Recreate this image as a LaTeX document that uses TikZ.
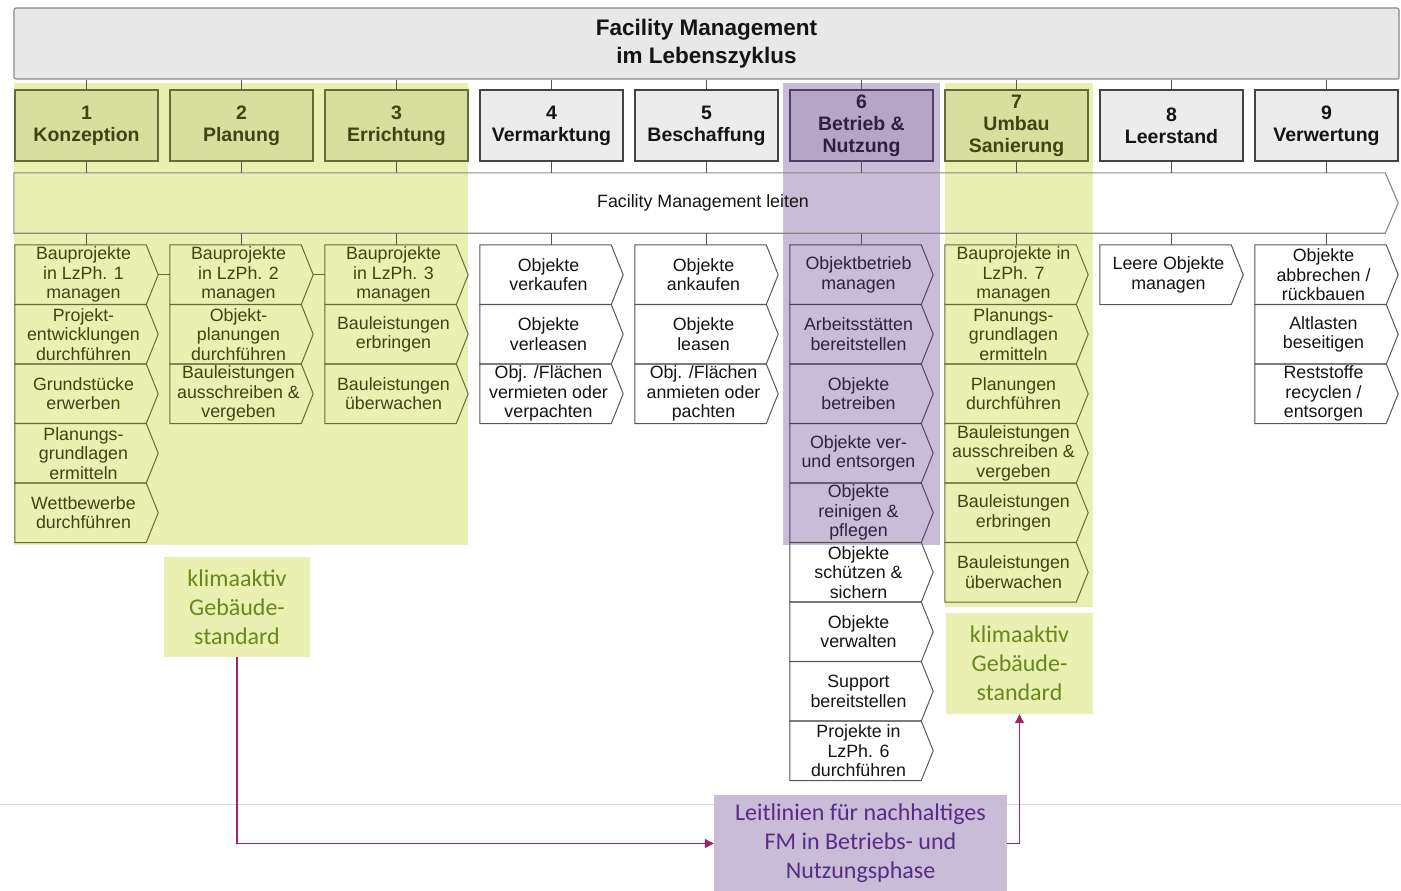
\documentclass[tikz,border=0pt]{standalone}
\usepackage{fontspec}
\setmainfont{Liberation Sans}
\newfontfamily\calib{Carlito}
\usetikzlibrary{arrows.meta,calc}
\definecolor{ovgreen}{RGB}{233,240,177}
\definecolor{ovpurple}{RGB}{200,188,216}
\definecolor{ghfill}{RGB}{216,222,158}
\definecolor{phfill}{RGB}{181,165,199}
\definecolor{hdrgrey}{RGB}{236,236,236}
\definecolor{topgrey}{RGB}{232,232,232}
\definecolor{ntxt}{RGB}{20,20,20}
\definecolor{gtxt}{RGB}{62,69,19}
\definecolor{ptxt}{RGB}{46,33,64}
\definecolor{nln}{RGB}{85,85,85}
\definecolor{gln}{RGB}{100,106,56}
\definecolor{pln}{RGB}{78,64,100}
\definecolor{klfill}{RGB}{233,240,177}
\definecolor{kltxt}{RGB}{104,136,28}
\definecolor{leitfill}{RGB}{200,188,216}
\definecolor{leittxt}{RGB}{88,44,128}
\definecolor{connc}{RGB}{160,36,96}
\newcommand\chv[5]{%
 \pgfmathsetmacro\chx{15+155*(#2-1)+68.5}%
 \pgfmathsetmacro\chy{245+59.5*(#3-1)+29.75}%
 \node[chevtext,#4text] (#1) at (\chx,\chy) {#5};%
 \draw[chevline,#4line] (#1.north west) -- ([xshift=-6pt]#1.north east) -- ([xshift=6pt]#1.east) -- ([xshift=-6pt]#1.south east) -- (#1.south west) -- cycle;%
}
\begin{document}
\begin{tikzpicture}[x=1pt,y=-1pt,
 chevtext/.style={minimum width=137pt, minimum height=59.5pt, inner sep=0pt, align=center, font=\fontsize{17.8}{19.5}\selectfont},
 ntext/.style={text=ntxt}, gtext/.style={text=gtxt}, ptext/.style={text=ptxt},
 chevline/.style={line width=1pt, line join=miter},
 nline/.style={draw=nln}, gline/.style={draw=gln}, pline/.style={draw=pln},
 hdr/.style={minimum width=143pt, minimum height=71pt, inner sep=0pt, align=center, line width=1.1pt, font=\bfseries\fontsize{19.5}{22}\selectfont},
 nhdr/.style={hdr, fill=hdrgrey, draw=nln!80!black, text=ntxt},
 ghdr/.style={hdr, fill=ghfill, draw=gln, text=gtxt},
 phdr/.style={hdr, fill=phfill, draw=pln, text=ptxt},
 tick/.style={line width=1pt, draw=nln},
 klim/.style={fill=klfill, text=kltxt, font=\calib\fontsize{24}{29}\selectfont, align=center, inner sep=0pt},
 conn/.style={line width=1.2pt, draw=connc, -{Triangle[length=9pt,width=9pt]}}
]
\useasboundingbox (0,0) rectangle (1401,891);
% highlight overlays
\fill[ovgreen] (14,83) rectangle (468,545);
\fill[ovpurple] (783,83) rectangle (940,545);
\fill[ovgreen] (945,83) rectangle (1093,607);
% top bar
\node[fill=topgrey, draw=nln!70, line width=1.1pt, rounded corners=2pt, minimum width=1385pt, minimum height=71pt, inner sep=0pt, align=center, font=\bfseries\fontsize{22.5}{28}\selectfont, text=ntxt] (top) at (706.5,43.5) {Facility Management\\im Lebenszyklus};
% headers
\node[ghdr] (h1) at (86.5,125.5) {1\\Konzeption};
\node[ghdr] (h2) at (241.5,125.5) {2\\Planung};
\node[ghdr] (h3) at (396.5,125.5) {3\\Errichtung};
\node[nhdr] (h4) at (551.5,125.5) {4\\Vermarktung};
\node[nhdr] (h5) at (706.5,125.5) {5\\Beschaffung};
\node[phdr] (h6) at (861.5,125.5) {6\\Betrieb \&\\Nutzung};
\node[ghdr] (h7) at (1016.5,125.5) {7\\Umbau\\Sanierung};
\node[nhdr] (h8) at (1171.5,125.5) {8\\Leerstand};
\node[nhdr] (h9) at (1326.5,125.5) {9\\Verwertung};
% FM leiten bar
\node[minimum width=1371pt, minimum height=60pt, inner sep=0pt] (bar) at (699.5,203) {};
\draw[line width=1.1pt, draw=nln!70] (bar.north west) -- (bar.north east) -- ([xshift=13pt]bar.east) -- (bar.south east) -- (bar.south west) -- cycle;
\node[font=\fontsize{17.8}{20}\selectfont, text=ntxt] (barlbl) at ([xshift=3.5pt]bar.center) {Facility Management leiten};
% chevrons
\chv{c1-1}{1}{1}{g}{Bauprojekte\\in LzPh. 1\\managen}
\chv{c1-2}{1}{2}{g}{Projekt-\\entwicklungen\\durchführen}
\chv{c1-3}{1}{3}{g}{Grundstücke\\erwerben}
\chv{c1-4}{1}{4}{g}{Planungs-\\grundlagen\\ermitteln}
\chv{c1-5}{1}{5}{g}{Wettbewerbe\\durchführen}
\chv{c2-1}{2}{1}{g}{Bauprojekte\\in LzPh. 2\\managen}
\chv{c2-2}{2}{2}{g}{Objekt-\\planungen\\durchführen}
\chv{c2-3}{2}{3}{g}{Bauleistungen\\ausschreiben \&\\vergeben}
\chv{c3-1}{3}{1}{g}{Bauprojekte\\in LzPh. 3\\managen}
\chv{c3-2}{3}{2}{g}{Bauleistungen\\erbringen}
\chv{c3-3}{3}{3}{g}{Bauleistungen\\überwachen}
\chv{c4-1}{4}{1}{n}{Objekte\\verkaufen}
\chv{c4-2}{4}{2}{n}{Objekte\\verleasen}
\chv{c4-3}{4}{3}{n}{Obj. /Flächen\\vermieten oder\\verpachten}
\chv{c5-1}{5}{1}{n}{Objekte\\ankaufen}
\chv{c5-2}{5}{2}{n}{Objekte\\leasen}
\chv{c5-3}{5}{3}{n}{Obj. /Flächen\\anmieten oder\\pachten}
\chv{c6-1}{6}{1}{p}{Objektbetrieb\\managen}
\chv{c6-2}{6}{2}{p}{Arbeitsstätten\\bereitstellen}
\chv{c6-3}{6}{3}{p}{Objekte\\betreiben}
\chv{c6-4}{6}{4}{p}{Objekte ver-\\und entsorgen}
\chv{c6-5}{6}{5}{p}{Objekte\\reinigen \&\\pflegen}
\chv{c6-6}{6}{6}{n}{Objekte\\schützen \&\\sichern}
\chv{c6-7}{6}{7}{n}{Objekte\\verwalten}
\chv{c6-8}{6}{8}{n}{Support\\bereitstellen}
\chv{c6-9}{6}{9}{n}{Projekte in\\LzPh. 6\\durchführen}
\chv{c7-1}{7}{1}{g}{Bauprojekte in\\LzPh. 7\\managen}
\chv{c7-2}{7}{2}{g}{Planungs-\\grundlagen\\ermitteln}
\chv{c7-3}{7}{3}{g}{Planungen\\durchführen}
\chv{c7-4}{7}{4}{g}{Bauleistungen\\ausschreiben \&\\vergeben}
\chv{c7-5}{7}{5}{g}{Bauleistungen\\erbringen}
\chv{c7-6}{7}{6}{g}{Bauleistungen\\überwachen}
\chv{c8-1}{8}{1}{n}{Leere Objekte\\managen}
\chv{c9-1}{9}{1}{n}{Objekte\\abbrechen /\\rückbauen}
\chv{c9-2}{9}{2}{n}{Altlasten\\beseitigen}
\chv{c9-3}{9}{3}{n}{Reststoffe\\recyclen /\\entsorgen}
% ticks
\foreach \i in {1,...,9}{
 \draw[tick] (h\i.north) -- (h\i.north |- top.south);
 \draw[tick] (h\i.south) -- (h\i.south |- bar.north);
 \draw[tick] (h\i.south |- bar.south) -- (h\i.south |- c\i-1.north);
}
% links between first chevrons
\draw[chevline,gline] ([xshift=6pt]c1-1.east) -- (c2-1.west);
\draw[chevline,gline] ([xshift=6pt]c2-1.east) -- (c3-1.west);
% bottom boxes
\node[klim, minimum width=146pt, minimum height=100pt] (klimL) at (237,607) {klimaaktiv\\Gebäude-\\standard};
\node[klim, minimum width=147pt, minimum height=101pt] (klimR) at (1019.5,663.5) {klimaaktiv\\Gebäude-\\standard};
\draw[line width=0.8pt, draw=black!15] (0,804) -- (1401,804);
\node[fill=leitfill, text=leittxt, font=\calib\fontsize{24}{29}\selectfont, align=center, inner sep=0pt, minimum width=293pt, minimum height=97pt] (leit) at (860.5,843.5) {Leitlinien für nachhaltiges\\FM in Betriebs- und\\Nutzungsphase};
% connectors
\draw[conn] (klimL.south) |- (leit.west);
\draw[conn] (leit.east) -| (klimR.south);
\end{tikzpicture}
\end{document}
